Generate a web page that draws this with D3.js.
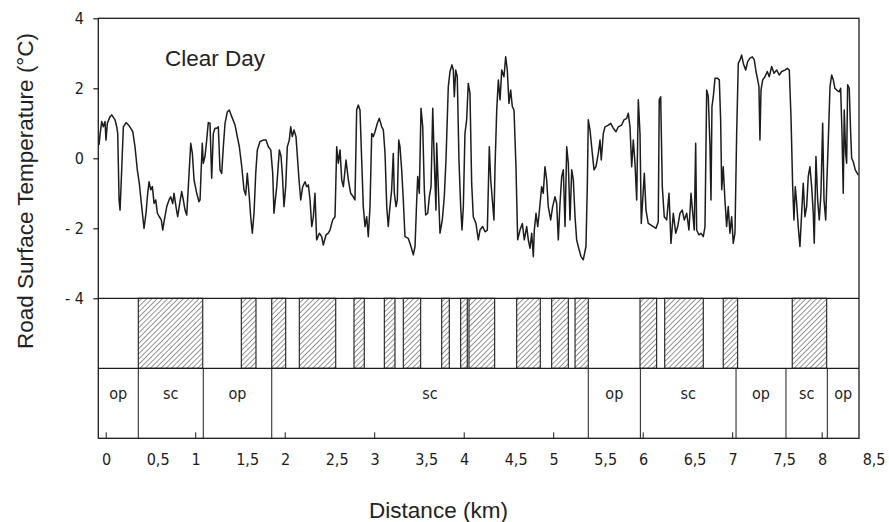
<!DOCTYPE html>
<html><head><meta charset="utf-8">
<script src="https://cdn.jsdelivr.net/npm/d3@7/dist/d3.min.js"></script>
<style>
body{margin:0;background:#fff;}
svg{display:block;background:#fff;}
.cond{font-family:"DejaVu Sans Condensed","Liberation Sans Narrow","DejaVu Sans",sans-serif;font-stretch:condensed;}
.sans{font-family:"Liberation Sans",Arial,sans-serif;}
</style></head><body>
<svg id="chart" width="889" height="522"></svg>
<script>
// ---- data ----
const distance = [
-0.075,-0.064,-0.045,-0.027,-0.008,0.003,0.018,0.048,0.067,0.104,0.123,0.134,0.149,0.160,0.171,0.197,0.227,0.264,0.302,0.327,
0.353,0.375,0.402,0.428,0.450,0.469,0.484,0.503,0.521,0.540,0.559,0.577,0.599,0.621,0.637,0.655,0.682,0.707,0.726,0.749,
0.763,0.785,0.804,0.830,0.849,0.867,0.886,0.905,0.923,0.950,0.968,0.987,1.017,1.042,1.054,1.065,1.079,1.090,1.109,1.128,
1.146,1.165,1.184,1.202,1.221,1.240,1.258,1.277,1.296,1.314,1.333,1.359,1.381,1.408,1.445,1.470,1.493,1.520,1.545,1.564,
1.582,1.604,1.620,1.638,1.657,1.676,1.694,1.724,1.761,1.791,1.817,1.844,1.866,1.880,1.895,1.911,1.940,1.959,1.973,1.992,
2.011,2.029,2.051,2.067,2.085,2.104,2.126,2.160,2.179,2.201,2.227,2.246,2.264,2.283,2.302,2.320,2.338,2.357,2.387,2.413,
2.431,2.461,2.487,2.506,2.536,2.562,2.581,2.599,2.618,2.637,2.655,2.685,2.711,2.737,2.766,2.785,2.804,2.822,2.841,2.860,
2.878,2.897,2.916,2.934,2.953,2.972,2.990,3.009,3.035,3.057,3.084,3.102,3.121,3.140,3.157,3.176,3.195,3.213,3.225,3.244,
3.258,3.274,3.288,3.307,3.325,3.344,3.381,3.411,3.437,3.456,3.475,3.486,3.504,3.523,3.542,3.560,3.575,3.598,3.616,3.635,
3.654,3.671,3.690,3.698,3.716,3.735,3.761,3.783,3.802,3.828,3.847,3.869,3.884,3.895,3.911,3.928,3.947,3.966,3.981,3.996,
4.014,4.033,4.051,4.070,4.089,4.107,4.137,4.163,4.182,4.212,4.238,4.264,4.286,4.302,4.320,4.338,4.350,4.369,4.387,4.406,
4.425,4.450,4.469,4.487,4.506,4.525,4.543,4.562,4.584,4.603,4.629,4.655,4.677,4.704,4.722,4.741,4.760,4.778,4.789,4.808,
4.827,4.845,4.871,4.889,4.908,4.927,4.945,4.972,4.994,5.020,5.039,5.057,5.076,5.095,5.113,5.132,5.151,5.169,5.188,5.207,
5.225,5.244,5.262,5.280,5.311,5.336,5.366,5.381,5.392,5.411,5.441,5.456,5.478,5.504,5.523,5.537,5.560,5.579,5.616,5.642,
5.671,5.702,5.727,5.765,5.791,5.821,5.839,5.858,5.877,5.895,5.914,5.933,5.951,5.970,5.984,6.000,6.018,6.037,6.062,6.089,
6.118,6.149,6.174,6.185,6.201,6.219,6.241,6.268,6.294,6.316,6.342,6.369,6.391,6.417,6.442,6.465,6.492,6.517,6.540,6.559,
6.576,6.592,6.603,6.629,6.651,6.677,6.696,6.715,6.733,6.752,6.763,6.774,6.789,6.808,6.833,6.856,6.871,6.883,6.900,6.919,
6.938,6.956,6.975,6.994,7.012,7.031,7.050,7.068,7.087,7.106,7.124,7.151,7.173,7.199,7.225,7.247,7.266,7.285,7.299,7.310,
7.322,7.341,7.366,7.392,7.414,7.441,7.467,7.497,7.526,7.553,7.590,7.616,7.638,7.657,7.676,7.690,7.705,7.721,7.738,7.757,
7.776,7.794,7.813,7.832,7.850,7.869,7.888,7.906,7.917,7.936,7.955,7.973,7.992,8.011,8.026,8.045,8.056,8.074,8.093,8.112,
8.130,8.148,8.168,8.197,8.212,8.227,8.241,8.252,8.268,8.279,8.290,8.308,8.324,8.335,8.353,8.375,8.398,8.409
];
const temperature = [
0.38,0.67,1.05,0.90,1.05,0.52,1.00,1.19,1.24,1.10,0.90,0.71,-1.19,-1.48,-0.81,0.90,1.02,0.92,0.76,0.33,
-0.33,-0.71,-1.38,-2.00,-1.57,-1.00,-0.67,-0.90,-0.81,-1.29,-1.19,-1.57,-1.67,-1.76,-2.05,-1.76,-1.38,-1.19,-1.10,-1.29,
-1.00,-1.38,-1.67,-1.24,-0.95,-1.19,-1.48,-1.62,-0.81,0.43,0.14,-0.62,-1.00,-1.24,-1.19,-0.43,0.43,-0.14,0.05,0.52,
1.02,1.00,-0.57,0.71,0.86,0.86,0.90,-0.33,-0.43,0.33,1.00,1.33,1.38,1.19,0.95,0.62,0.33,-0.24,-0.90,-1.05,
-0.43,-1.10,-1.67,-2.14,-1.57,-0.43,0.24,0.48,0.52,0.52,0.33,0.24,-0.43,-1.57,-1.19,-0.81,0.24,0.05,-0.43,-1.38,
-0.81,0.33,0.52,0.90,0.62,0.81,0.62,-0.62,-1.19,-0.81,-0.67,-0.81,-0.76,-1.19,-1.95,-1.67,-1.00,-2.33,-2.14,-2.24,
-2.48,-2.19,-2.14,-2.05,-1.76,-1.67,0.33,-0.14,0.24,-0.62,-0.81,-0.05,-0.62,-1.00,-1.10,-1.19,1.38,1.52,1.38,-0.05,
-1.38,-1.95,-1.67,-2.24,-1.38,0.71,0.62,0.76,1.00,1.14,0.90,0.81,0.14,-1.38,-1.95,-1.38,-0.90,0.14,-1.00,-1.38,
-1.19,0.52,0.33,-0.33,-1.19,-2.24,-2.29,-2.52,-2.76,-2.52,-1.19,-0.52,-1.00,1.43,0.90,-0.90,-1.62,-1.57,-1.10,-0.81,
1.43,-0.05,-1.48,0.43,-0.81,-2.14,-1.76,-1.10,-0.05,2.05,2.48,2.67,2.52,1.76,2.52,2.33,-0.05,-1.38,-2.05,-1.38,
0.71,1.10,2.14,1.86,-0.71,-1.67,-1.86,-2.33,-2.05,-1.95,-2.10,-2.05,0.33,-0.62,-1.19,-1.76,-0.24,1.38,2.24,1.67,
2.52,2.33,2.90,2.52,1.57,1.95,1.48,1.38,-0.24,-2.33,-2.05,-1.86,-2.33,-1.95,-2.33,-2.57,-2.14,-2.81,-2.05,-1.57,
-1.95,-1.52,-0.81,-1.00,-0.24,-0.62,-1.38,-1.76,-1.38,-1.10,-1.29,-2.33,-1.29,-0.52,-0.33,-1.95,0.33,-0.14,-1.76,-0.33,
-0.62,-1.67,-2.33,-2.52,-2.81,-2.90,-2.52,-0.81,1.10,0.81,0.05,-0.33,-0.24,0.14,0.52,-0.05,0.71,0.90,0.95,1.00,
0.86,0.76,0.90,0.95,1.10,1.14,1.29,0.90,-0.24,0.52,-0.14,-1.19,1.67,0.71,-1.86,-1.19,-0.43,-1.48,-1.86,-1.90,
-1.95,-2.00,-1.81,1.67,1.76,-0.81,-1.67,-1.76,-1.00,-2.43,-1.57,-2.14,-1.95,-1.57,-1.48,-1.76,-1.57,-2.05,-1.00,-1.57,
-2.05,0.43,-2.05,-2.19,-2.14,-2.24,-1.95,1.95,1.76,0.33,-1.19,1.48,1.76,2.29,2.29,2.24,1.10,-0.90,-0.24,-1.19,
-1.95,-1.38,-2.14,-1.67,-2.43,-2.14,0.71,2.71,2.81,2.95,2.71,2.52,2.76,2.86,2.90,2.81,2.48,2.24,2.05,0.52,
1.95,2.24,2.33,2.48,2.33,2.62,2.43,2.52,2.38,2.48,2.52,2.57,2.52,1.19,-0.81,-1.76,-0.81,-1.29,-1.95,-2.52,
-1.57,-0.71,-1.67,-1.38,-0.52,-0.24,-0.81,-1.57,-2.43,0.05,-1.19,-1.76,-1.00,1.00,-1.19,-1.76,-0.81,0.52,2.05,2.38,
2.24,2.00,1.95,1.90,2.00,0.71,-1.00,1.38,0.14,-0.14,2.10,2.00,0.71,0.00,-0.10,-0.33,-0.43,-0.48
];
// shaded (hatched) sections, km
const shadedStart = [0.364,1.515,1.855,2.163,2.774,3.113,3.325,3.754,3.966,4.059,4.592,4.983,5.244,5.970,6.246,6.900,7.671];
const shadedEnd   = [1.084,1.679,2.011,2.570,2.889,3.232,3.519,3.839,4.040,4.346,4.856,5.169,5.392,6.156,6.677,7.061,8.056];
// road sections: open (op) / screened (sc)
const zoneStart  = [-0.083,0.364,1.090,1.855,5.392,5.974,7.043,7.601,8.063];
const zoneEnd    = [0.364,1.090,1.855,5.392,5.974,7.043,7.601,8.063,8.417];
const zoneLabels = ["op","sc","op","sc","op","sc","op","sc","op"];
// axes
const xMajorTicks = [0,1,2,3,4,5,6,7,8];
const xTickValues = [0,0.5,1,1.5,2,2.5,3,3.5,4,4.5,5,5.5,6,6.5,7,7.5,8,8.5];
const xTickLabels = ["0","0,5","1","1,5","2","2,5","3","3,5","4","4,5","5","5,5","6","6,5","7","7,5","8","8,5"];
const yTickValues = [4,2,0,-2,-4];
const yTickLabels = ["4","2","0","- 2","- 4"];

// ---- drawing ----
const svg = d3.select("#chart");
const x = d3.scaleLinear().domain([-0.083, 8.417]).range([98.3, 859]);
const y = d3.scaleLinear().domain([-8, 4]).range([438.3, 18.3]);
const ink = "#1c1c1c";

// hatch pattern
const defs = svg.append("defs");
const pat = defs.append("pattern").attr("id","hatch").attr("patternUnits","userSpaceOnUse")
  .attr("width",3.7).attr("height",3.7).attr("patternTransform","rotate(45)");
pat.append("line").attr("x1",0).attr("y1",0).attr("x2",0).attr("y2",3.7)
  .attr("stroke","#2a2a2a").attr("stroke-width",1);

// hatched bars
svg.append("g").selectAll("rect").data(shadedStart).join("rect")
  .attr("x",(d)=>x(d)).attr("width",(d,i)=>x(shadedEnd[i])-x(d))
  .attr("y",y(-4)).attr("height",y(-6)-y(-4))
  .attr("fill","url(#hatch)").attr("stroke",ink).attr("stroke-width",1.1);

// zone dividers + labels
svg.append("g").selectAll("line").data(zoneStart.slice(1)).join("line")
  .attr("x1",d=>x(d)).attr("x2",d=>x(d)).attr("y1",y(-6)).attr("y2",y(-8))
  .attr("stroke",ink).attr("stroke-width",1);
svg.append("g").selectAll("text").data(zoneLabels).join("text")
  .attr("class","cond").attr("font-size",16).attr("fill",ink)
  .attr("text-anchor","middle")
  .attr("x",(d,i)=>(x(zoneStart[i])+x(zoneEnd[i]))/2).attr("y",399)
  .text(d=>d);

// frame + separators
const fr = svg.append("g").attr("stroke",ink).attr("stroke-width",1.3).attr("fill","none");
fr.append("rect").attr("x",x(-0.083)).attr("y",y(4)).attr("width",x(8.417)-x(-0.083)).attr("height",y(-8)-y(4));
[-4,-6].forEach(v=>fr.append("line").attr("x1",x(-0.083)).attr("x2",x(8.417)).attr("y1",y(v)).attr("y2",y(v)));

// temperature line
const pts = distance.map((d,i)=>[d,temperature[i]]);
svg.append("path").datum(pts)
  .attr("d", d3.line().x(d=>x(d[0])).y(d=>y(d[1])))
  .attr("fill","none").attr("stroke",ink).attr("stroke-width",1.5).attr("stroke-linejoin","round");

// y axis
const ya = svg.append("g").attr("transform",`translate(${x(-0.083)},0)`)
  .call(d3.axisLeft(y).tickValues(yTickValues).tickSize(5).tickPadding(9.5)
    .tickFormat((d,i)=>yTickLabels[i]));
ya.select(".domain").remove();
ya.selectAll("line").attr("stroke",ink).attr("stroke-width",1.2);
ya.selectAll("text").attr("class","cond").attr("font-size",16).attr("fill",ink).attr("font-family",null);

// x axis: inner ticks at whole km
const xa = svg.append("g").attr("transform",`translate(0,${y(-8)})`)
  .call(d3.axisBottom(x).tickValues(xMajorTicks).tickSize(-6).tickFormat(""));
xa.select(".domain").remove();
xa.selectAll("line").attr("stroke",ink).attr("stroke-width",1);
// x labels every 0.5 km
const xl = svg.append("g").attr("transform",`translate(0,${y(-8)})`)
  .call(d3.axisBottom(x).tickValues(xTickValues).tickSize(0).tickFormat((d,i)=>xTickLabels[i]));
xl.select(".domain").remove();
xl.selectAll("text").attr("class","cond").attr("font-size",16).attr("fill",ink).attr("font-family",null)
  .attr("text-anchor","start").attr("x",-4.3).attr("y",27).attr("dy",null);

// titles
svg.append("text").attr("class","sans").attr("font-size",22.5).attr("fill","#222")
  .attr("x",165).attr("y",66).text("Clear Day");
svg.append("text").attr("class","sans").attr("font-size",22.5).attr("fill","#222")
  .attr("text-anchor","middle").attr("transform","translate(33,191) rotate(-90)")
  .text("Road Surface Temperature (°C)");
svg.append("text").attr("class","sans").attr("font-size",22.5).attr("fill","#222")
  .attr("text-anchor","middle").attr("x",438.5).attr("y",518).text("Distance (km)");
</script>
</body></html>
